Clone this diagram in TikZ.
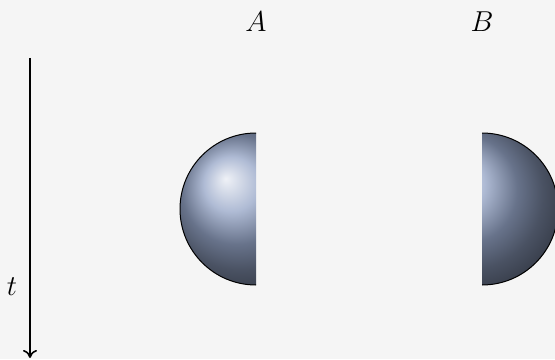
\documentclass[tikz,border=0pt]{standalone}
\usetikzlibrary{arrows.meta}

\definecolor{bgcol}{HTML}{F5F5F5}
\definecolor{spherecol}{RGB}{148,164,198}

\tikzset{
    halfball/.style={ball color=spherecol},
    rim/.style={draw=black, line width=0.5pt},
    timeaxis/.style={thick, -{To[length=4pt,width=7pt]}},
    lab/.style={font=\Large}
}

\begin{document}
\begin{tikzpicture}[x=0.5pt, y=0.5pt]

    %----- BACKGROUND -----
    \fill[bgcol] (0,0) rectangle (555,359);
    \useasboundingbox (0,0) rectangle (555,359);

    %----- LABELS -----
    \node[lab] (labA) at (256,337) {$A$};
    \node[lab] (labB) at (482,337) {$B$};

    %----- TIME AXIS -----
    \coordinate (ttop) at (30,301);
    \coordinate (tbot) at (30,1);
    \draw[timeaxis] (ttop) -- (tbot);
    \node[lab] (labt) at (12,72) {$t$};

    %----- LEFT HALF OF SPHERE A -----
    \begin{scope}
        \clip (170,60) rectangle (256,240);
        \shade[halfball] (256,150) circle (76);
    \end{scope}
    \draw[rim] (256,226) arc (90:270:76);

    %----- RIGHT HALF OF SPHERE B -----
    \begin{scope}
        \clip (482,60) rectangle (570,240);
        \shade[halfball] (482,150) circle (76);
    \end{scope}
    \draw[rim] (482,226) arc (90:-90:76);

\end{tikzpicture}
\end{document}
